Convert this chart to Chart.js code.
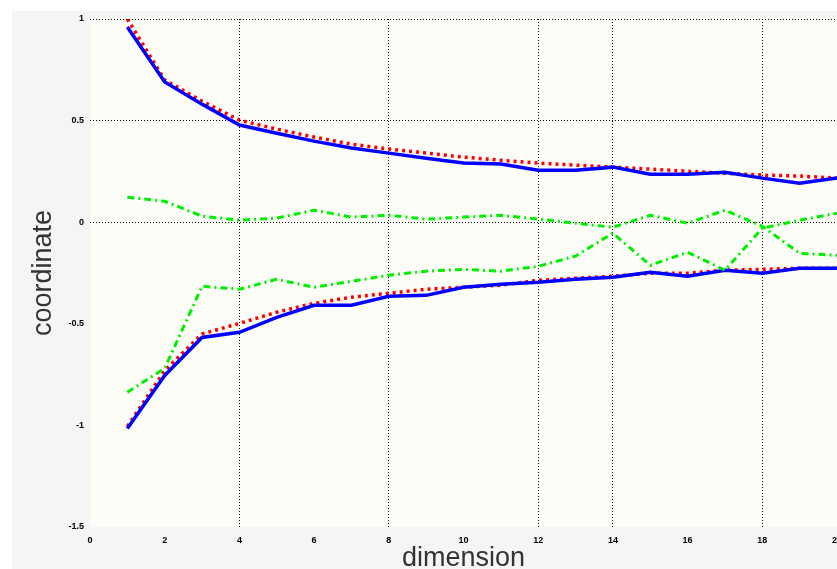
<!DOCTYPE html>
<html>
<head>
<meta charset="utf-8">
<script src="https://cdn.jsdelivr.net/npm/chart.js@4/dist/chart.umd.min.js"></script>
<style>
  body { margin: 0; background: #ffffff; }
  #wrap { width: 837px; height: 569px; }
</style>
</head>
<body>
<div id="wrap"><canvas id="chart" width="837" height="569"></canvas></div>
<script>
const dims = [1, 2, 3, 4, 5, 6, 7, 8, 9, 10, 11, 12, 13, 14, 15, 16, 17, 18, 19, 20];
const upperRed = [1.0, 0.70, 0.596, 0.502, 0.458, 0.419, 0.384, 0.360, 0.340, 0.320, 0.305, 0.291, 0.281, 0.271, 0.261, 0.251, 0.241, 0.232, 0.227, 0.217];
const upperBlue = [0.961, 0.690, 0.581, 0.478, 0.438, 0.399, 0.365, 0.340, 0.315, 0.291, 0.286, 0.256, 0.256, 0.271, 0.236, 0.236, 0.246, 0.217, 0.192, 0.217];
const lowerRed = [-1.005, -0.73, -0.55, -0.498, -0.443, -0.399, -0.369, -0.350, -0.330, -0.320, -0.310, -0.286, -0.276, -0.266, -0.251, -0.251, -0.236, -0.232, -0.227, -0.227];
const lowerBlue = [-1.015, -0.754, -0.567, -0.542, -0.468, -0.409, -0.409, -0.365, -0.360, -0.320, -0.305, -0.296, -0.281, -0.271, -0.246, -0.266, -0.236, -0.251, -0.227, -0.227];
const greenA = [0.123, 0.103, 0.030, 0.010, 0.020, 0.059, 0.025, 0.034, 0.015, 0.025, 0.034, 0.015, -0.005, -0.025, 0.034, -0.005, 0.059, -0.020, -0.153, -0.163];
const greenB = [-0.837, -0.719, -0.315, -0.330, -0.281, -0.320, -0.291, -0.261, -0.241, -0.232, -0.241, -0.217, -0.167, -0.054, -0.212, -0.148, -0.236, -0.030, 0.010, 0.044];

// grid lines that survive in the picture
const xGridAt = [4, 8, 12, 14, 18];
const yGridAt = [1, 0.5, 0];

const pts = (ys) => dims.map((d, i) => ({ x: d, y: ys[i] }));

const line = (ys, color, dash, width) => ({
  data: pts(ys),
  borderColor: color,
  borderWidth: width,
  borderDash: dash,
  pointRadius: 0,
  tension: 0,
  fill: false,
});

const background = {
  id: "background",
  beforeDraw(chart) {
    const { ctx, chartArea } = chart;
    ctx.save();
    ctx.fillStyle = "#ffffff";
    ctx.fillRect(0, 0, chart.width, chart.height);
    ctx.fillStyle = "#f5f5f5";
    ctx.fillRect(12, 11, chart.width - 12, chart.height - 11);
    ctx.fillStyle = "#fdfdf8";
    ctx.fillRect(chartArea.left, chartArea.top - 2, chartArea.right - chartArea.left, chartArea.bottom - chartArea.top + 2);
    ctx.restore();
  },
};

Chart.register(background);

const tickFont = { family: "Arial, 'Liberation Sans', sans-serif", size: 9, weight: "bold" };
const titleFont = { family: "Arial, 'Liberation Sans', sans-serif", size: 27, lineHeight: 0.8 };

const ctx = document.getElementById("chart").getContext("2d");

new Chart(ctx, {
  type: "line",
  data: {
    datasets: [
      line(greenA, "#00ee00", [7, 4, 2, 4], 3),
      line(greenB, "#00ee00", [7, 4, 2, 4], 3),
      line(upperBlue, "#0000ff", [], 3.5),
      line(lowerBlue, "#0000ff", [], 3.5),
      line(upperRed, "#ff0000", [3, 4], 3.5),
      line(lowerRed, "#ff0000", [3, 4], 3.5),
    ],
  },
  options: {
    responsive: false,
    animation: false,
    layout: { padding: { top: 19, right: 0, bottom: 0, left: 0 } },
    plugins: {
      legend: { display: false },
      tooltip: { enabled: false },
    },
    scales: {
      x: {
        type: "linear",
        min: 0,
        max: 20,
        afterFit: (s) => {
          s.height = 42;
          s.paddingLeft = 0;
          s.paddingRight = 0;
        },
        border: { display: false, dash: [1, 2] },
        grid: {
          drawTicks: false,
          lineWidth: 1,
          color: (c) => (xGridAt.includes(c.tick.value) ? "#000000" : "rgba(0,0,0,0)"),
        },
        ticks: {
          stepSize: 2,
          padding: 8,
          maxRotation: 0,
          color: "#000000",
          font: tickFont,
          callback: (v) => String(v),
        },
        title: {
          display: true,
          text: "dimension",
          color: "#333333",
          padding: 0,
          font: titleFont,
        },
      },
      y: {
        type: "linear",
        min: -1.5,
        max: 1,
        afterFit: (s) => { s.width = 90; },
        border: { display: false, dash: [1, 2] },
        grid: {
          drawTicks: false,
          lineWidth: 1,
          color: (c) => (yGridAt.includes(c.tick.value) ? "#000000" : "rgba(0,0,0,0)"),
        },
        ticks: {
          stepSize: 0.5,
          padding: 6,
          color: "#000000",
          font: tickFont,
          callback: (v) => String(v),
        },
        title: {
          display: true,
          text: "coordinate",
          color: "#333333",
          padding: { top: 33, bottom: 0 },
          font: titleFont,
        },
      },
    },
  },
});
</script>
</body>
</html>
